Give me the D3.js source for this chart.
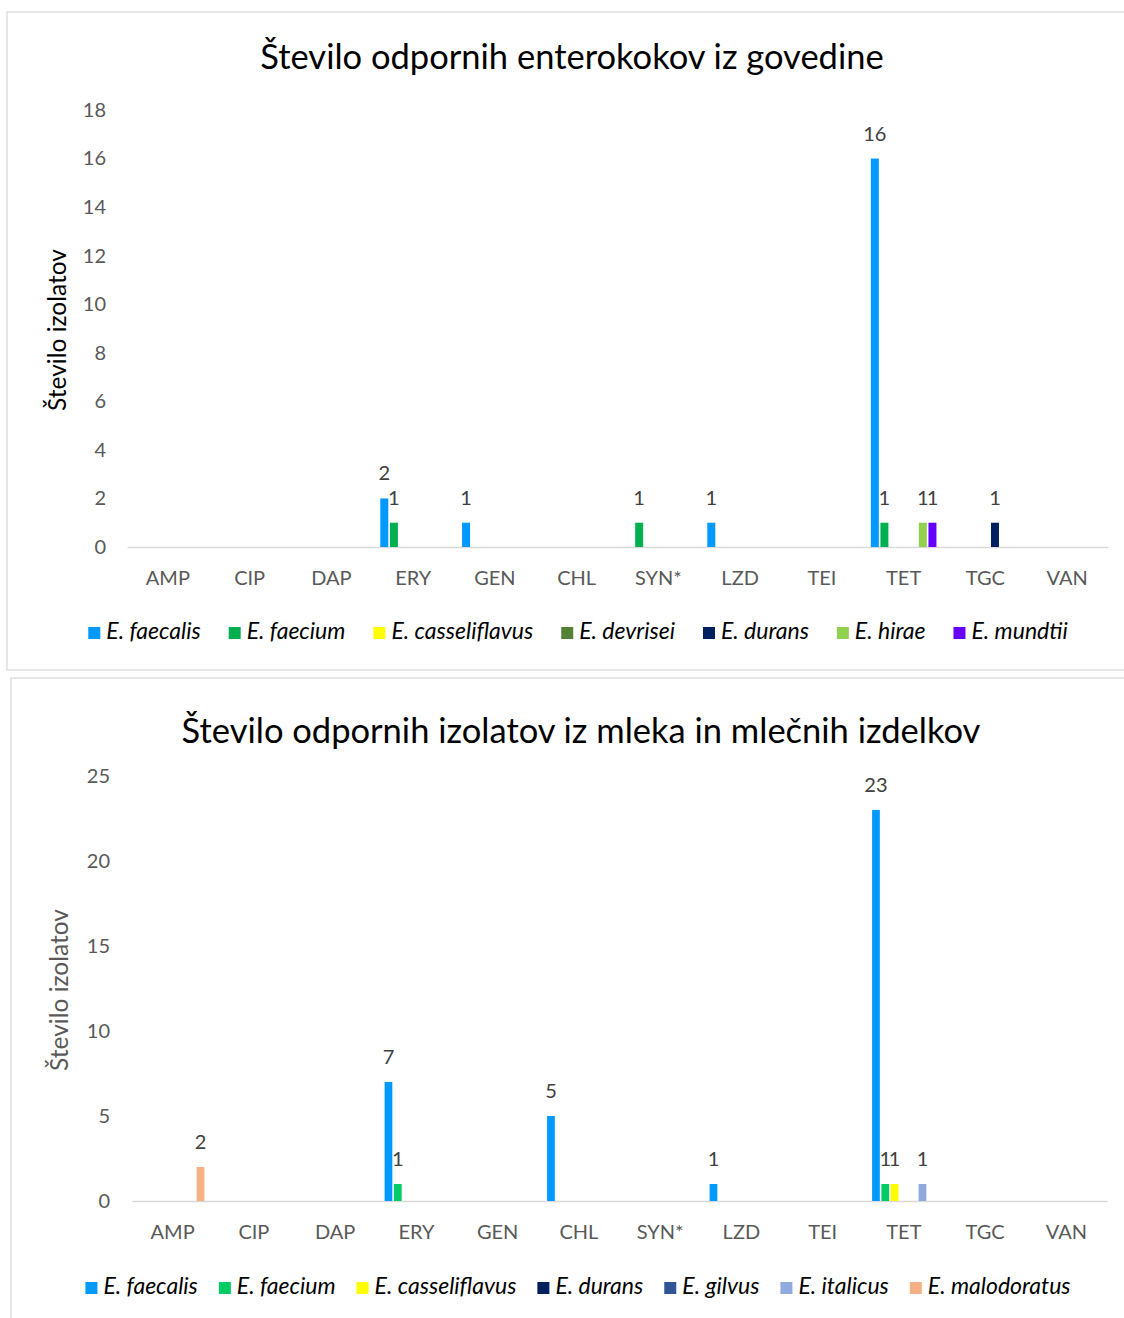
<!DOCTYPE html>
<html><head><meta charset="utf-8">
<script src="https://cdn.jsdelivr.net/npm/d3@7"></script>
<style>
body{margin:0;background:#fff;}
svg{display:block;font-family:Lato,"Liberation Sans",sans-serif;}
</style></head>
<body><svg id="c" width="1124" height="1318"></svg>
<script>
const categories = ["AMP","CIP","DAP","ERY","GEN","CHL","SYN*","LZD","TEI","TET","TGC","VAN"];

// Chart 1: govedina
const title1 = "Število odpornih enterokokov iz govedine";
const series1 = ["E. faecalis","E. faecium","E. casseliflavus","E. devrisei","E. durans","E. hirae","E. mundtii"];
const colors1 = ["#0099FF","#00B050","#FFFF00","#548235","#002060","#92D050","#6600FF"];
const faecalis1      = [null,null,null,2,1,null,null,1,null,16,null,null];
const faecium1       = [null,null,null,1,null,null,1,null,null,1,null,null];
const casseliflavus1 = [null,null,null,null,null,null,null,null,null,null,null,null];
const devrisei1      = [null,null,null,null,null,null,null,null,null,null,null,null];
const durans1        = [null,null,null,null,null,null,null,null,null,null,1,null];
const hirae1         = [null,null,null,null,null,null,null,null,null,1,null,null];
const mundtii1       = [null,null,null,null,null,null,null,null,null,1,null,null];
const yTicks1 = [0,2,4,6,8,10,12,14,16,18];

// Chart 2: mleko
const title2 = "Število odpornih izolatov iz mleka in mlečnih izdelkov";
const series2 = ["E. faecalis","E. faecium","E. casseliflavus","E. durans","E. gilvus","E. italicus","E. malodoratus"];
const colors2 = ["#0099FF","#00CC66","#FFFF00","#002060","#2F5597","#8EA9DB","#F4B183"];
const faecalis2      = [null,null,null,7,null,5,null,1,null,23,null,null];
const faecium2       = [null,null,null,1,null,null,null,null,null,1,null,null];
const casseliflavus2 = [null,null,null,null,null,null,null,null,null,1,null,null];
const durans2        = [null,null,null,null,null,null,null,null,null,null,null,null];
const gilvus2        = [null,null,null,null,null,null,null,null,null,null,null,null];
const italicus2      = [null,null,null,null,null,null,null,null,null,1,null,null];
const malodoratus2   = [2,null,null,null,null,null,null,null,null,null,null,null];
const yTicks2 = [0,5,10,15,20,25];

const yTitle = "Število izolatov";

const svg = d3.select("#c");

function drawChart(o){
  const g = svg.append("g");
  g.append("rect").attr("x",o.box[0]).attr("y",o.box[1]).attr("width",o.box[2]).attr("height",o.box[3])
    .attr("fill","#fff").attr("stroke","#d9d9d9").attr("stroke-width",1.3);
  g.append("text").attr("x",o.titleX).attr("y",o.titleY).attr("text-anchor","middle")
    .attr("dominant-baseline","middle").attr("font-size",o.titleSize).attr("fill","#000").text(o.title);

  const x = d3.scaleBand().domain(categories).range([o.left,o.right]);
  const y = d3.scaleLinear().domain([0,d3.max(o.ticks)]).range([o.base,o.top]);
  const bw = x.bandwidth();
  const slot = bw*o.slotFrac;
  const inner = d3.scaleBand().domain(o.series)
    .range([bw/2 - slot*o.series.length/2, bw/2 + slot*o.series.length/2])
    .paddingInner(0.17).paddingOuter(0.085);

  // y axis tick labels
  const ya = d3.axisLeft(y).tickValues(o.ticks).tickSize(0).tickPadding(o.tickPad);
  const yg = g.append("g").attr("transform",`translate(${o.left},0)`).call(ya);
  yg.select(".domain").remove();
  yg.selectAll("text").attr("font-size",20).attr("fill","#595959").attr("font-family","Lato,sans-serif");

  // baseline + x labels
  const xa = d3.axisBottom(x).tickSize(0).tickPadding(o.xPad);
  const xg = g.append("g").attr("transform",`translate(0,${o.base})`).call(xa);
  xg.select(".domain").attr("stroke","#d9d9d9").attr("stroke-width",1.5);
  xg.selectAll("text").attr("font-size",20).attr("fill","#595959").attr("font-family","Lato,sans-serif");

  // y title
  g.append("text").attr("transform",`translate(${o.yTitleX},${o.yTitleY}) rotate(-90)`)
    .attr("text-anchor","middle").attr("dominant-baseline","middle")
    .attr("font-size",24.5).attr("fill",o.yTitleColor).text(yTitle);

  // bars
  o.series.forEach((s,si)=>{
    const vals = o.values[si];
    const sg = g.append("g");
    categories.forEach((c,ci)=>{
      const v = vals[ci];
      if(v==null) return;
      const bx = x(c)+inner(s);
      sg.append("rect").attr("x",bx).attr("y",y(v)).attr("width",inner.bandwidth())
        .attr("height",y(0)-y(v)).attr("fill",o.colors[si]);
      sg.append("text").attr("x",bx+inner.bandwidth()/2).attr("y",y(v)-18)
        .attr("text-anchor","middle").attr("font-size",20).attr("fill","#404040").text(v);
    });
  });

  // legend
  const lg = g.append("g");
  const items = [];
  o.series.forEach((s,si)=>{
    const it = lg.append("g");
    it.append("rect").attr("x",0).attr("y",-6).attr("width",12).attr("height",12).attr("fill",o.colors[si]);
    const t = it.append("text").attr("x",18).attr("y",0).attr("dominant-baseline","middle")
      .attr("font-size",o.legSize).attr("font-style","italic").attr("fill","#000").text(s);
    const w = 18 + t.node().getComputedTextLength();
    items.push({it,w});
  });
  const gap = o.legGap;
  const total = d3.sum(items,d=>d.w) + gap*(items.length-1);
  let px = o.legCenter - total/2;
  items.forEach(d=>{ d.it.attr("transform",`translate(${px},${o.legY})`); px += d.w + gap; });
}

drawChart({
  box:[7,12,1130,658], title:title1, titleX:572, titleY:60, titleSize:34.5,
  left:127, right:1108, base:547, top:110, ticks:yTicks1, tickPad:21, xPad:24,
  slotFrac:0.1175, series:series1, colors:colors1,
  values:[faecalis1,faecium1,casseliflavus1,devrisei1,durans1,hirae1,mundtii1],
  yTitleX:60, yTitleY:330, yTitleColor:"#000",
  legY:633, legCenter:578, legSize:23, legGap:28
});
drawChart({
  box:[11,678,1130,660], title:title2, titleX:581, titleY:734, titleSize:34.5,
  left:132, right:1107, base:1201, top:776, ticks:yTicks2, tickPad:22, xPad:24,
  slotFrac:0.1145, series:series2, colors:colors2,
  values:[faecalis2,faecium2,casseliflavus2,durans2,gilvus2,italicus2,malodoratus2],
  yTitleX:62, yTitleY:990, yTitleColor:"#595959",
  legY:1288, legCenter:578, legSize:23, legGap:21
});
</script></body></html>
